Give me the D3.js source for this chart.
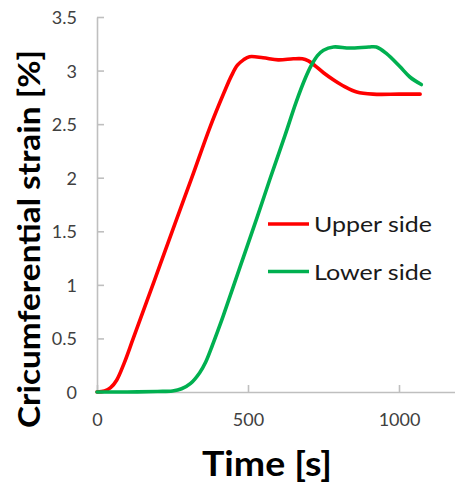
<!DOCTYPE html>
<html>
<head>
<meta charset="utf-8">
<script src="https://cdn.jsdelivr.net/npm/d3@7"></script>
<style>
  body { margin: 0; background: #fff; }
  text { font-family: Lato, "Open Sans", sans-serif; }
</style>
</head>
<body>
<script>
// time [s] and strain [%]
var upperTime = [0, 25, 45, 65, 90, 120, 190, 258, 314, 374, 420, 445, 465, 485, 505, 550, 600, 650, 680, 700, 720, 750, 785, 820, 860, 914, 1000, 1070];
var upperStrain = [0, 0.01, 0.04, 0.11, 0.27, 0.5, 1.04, 1.57, 2.0, 2.47, 2.79, 2.95, 3.05, 3.1, 3.13, 3.12, 3.1, 3.11, 3.11, 3.09, 3.05, 2.98, 2.91, 2.85, 2.8, 2.78, 2.78, 2.78];

var lowerTime = [0, 100, 200, 250, 280, 310, 340, 360, 380, 400, 418, 474, 529, 573, 622, 660, 690, 710, 730, 750, 783, 837, 900, 925, 958, 1002, 1036, 1074];
var lowerStrain = [0, 0, 0.005, 0.01, 0.03, 0.08, 0.18, 0.28, 0.42, 0.57, 0.71, 1.17, 1.62, 1.99, 2.39, 2.71, 2.93, 3.05, 3.14, 3.19, 3.22, 3.21, 3.22, 3.22, 3.16, 3.04, 2.94, 2.87];

var seriesNames = ["Upper side", "Lower side"];
var seriesColors = ["#ff0000", "#00b050"];

var xTicks = [0, 500, 1000];
var yTicks = [0, 0.5, 1, 1.5, 2, 2.5, 3, 3.5];

var w = 455, h = 486;

var svg = d3.select("body").append("svg")
    .attr("width", w)
    .attr("height", h);

var x = d3.scaleLinear().domain([0, 1200]).range([97, 459.4]);
var y = d3.scaleLinear().domain([0, 3.5]).range([392, 17]);

// axes
var yAxis = svg.append("g")
    .attr("transform", "translate(" + x(0) + ",0)")
    .call(d3.axisLeft(y).tickValues(yTicks).tickFormat(d3.format("~g"))
        .tickSize(-7).tickSizeOuter(0).tickPadding(20));

var xAxis = svg.append("g")
    .attr("transform", "translate(0," + y(0) + ")")
    .call(d3.axisBottom(x).tickValues(xTicks).tickFormat(d3.format("d"))
        .tickSize(-7).tickSizeOuter(0).tickPadding(21));

svg.selectAll(".domain, .tick line")
    .attr("stroke", "#bfbfbf")
    .attr("stroke-width", 1.6);
svg.selectAll(".tick text")
    .attr("fill", "#404040")
    .style("font-size", "18px");
yAxis.selectAll(".tick text").attr("dy", "0.36em");

// lines
var line = d3.line()
    .x(function(d){ return x(d[0]); })
    .y(function(d){ return y(d[1]); })
    .curve(d3.curveCatmullRom.alpha(0.5));

var series = [
    d3.zip(upperTime, upperStrain),
    d3.zip(lowerTime, lowerStrain)
];

svg.selectAll(".serie")
    .data(series)
    .enter().append("path")
    .attr("class", "serie")
    .attr("d", line)
    .attr("fill", "none")
    .attr("stroke", function(d, i){ return seriesColors[i]; })
    .attr("stroke-width", 3.6)
    .attr("stroke-linecap", "round")
    .attr("stroke-linejoin", "round");

// legend
var legend = svg.selectAll(".legend")
    .data(seriesNames)
    .enter().append("g")
    .attr("class", "legend")
    .attr("transform", function(d, i){ return "translate(268," + (224 + i * 47.5) + ")"; });

legend.append("line")
    .attr("x1", 0).attr("x2", 41)
    .attr("stroke", function(d, i){ return seriesColors[i]; })
    .attr("stroke-width", 3.6);

legend.append("text")
    .text(function(d){ return d; })
    .attr("x", 46)
    .attr("y", 8)
    .attr("fill", "#1a1a1a")
    .attr("textLength", 118)
    .attr("lengthAdjust", "spacingAndGlyphs")
    .style("font-size", "22px");

// titles
svg.append("text")
    .text("Time [s]")
    .attr("x", 202)
    .attr("y", 476)
    .attr("textLength", 130)
    .attr("lengthAdjust", "spacingAndGlyphs")
    .style("font-size", "35px")
    .style("font-weight", "bold");

svg.append("text")
    .text("Cricumferential strain [%]")
    .attr("transform", "translate(40,428) rotate(-90)")
    .attr("textLength", 378)
    .attr("lengthAdjust", "spacingAndGlyphs")
    .style("font-size", "31px")
    .style("font-weight", "bold");
</script>
</body>
</html>
